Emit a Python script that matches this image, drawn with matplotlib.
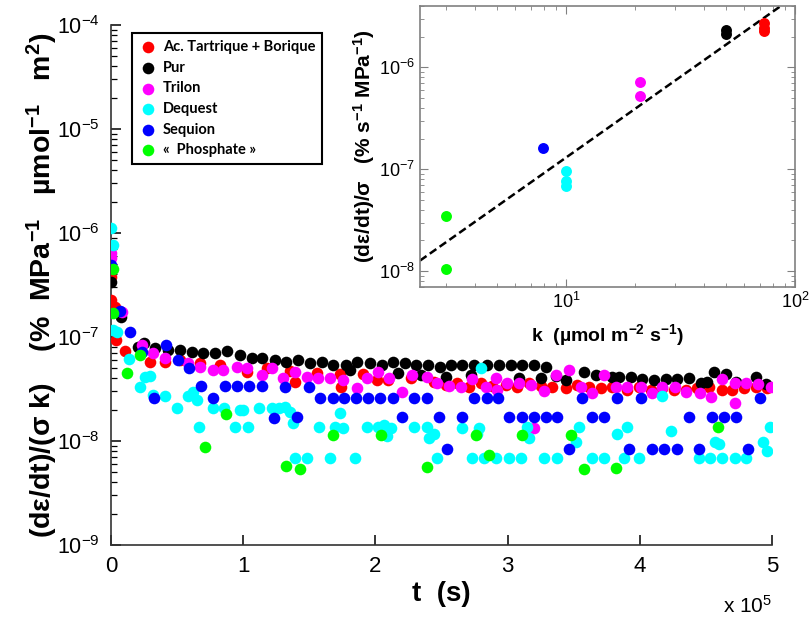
import matplotlib
matplotlib.use("Agg")
import matplotlib.pyplot as plt
from matplotlib.ticker import LogLocator, NullFormatter

plt.rcParams['font.family'] = ['Liberation Sans', 'DejaVu Sans']

# ---------------- data (t in units of 1e5 s) ----------------
names = ["Ac. Tartrique + Borique", "Pur", "Trilon", "Dequest", "Sequion", "«  Phosphate »"]
colors = ["#ff0000", "#000000", "#ff00ff", "#00ffff", "#0000ff", "#00ff00"]

tartrique_t = [0.0, 0.0, 0.03, 0.038, 0.106, 0.295, 0.41, 0.521, 0.672, 0.823, 1.027, 1.178, 1.352, 1.39, 1.556,
               1.73, 1.737, 1.903, 2.009, 2.092, 2.273, 2.447, 2.538, 2.621, 2.711, 2.802, 2.885, 2.991, 3.074,
               3.165, 3.255, 3.338, 3.444, 3.527, 3.618, 3.708, 3.792, 3.905, 3.995, 4.086, 4.169, 4.26, 4.35,
               4.434, 4.524, 4.622, 4.698, 4.789, 4.879, 4.962]
tartrique_y = [3.76e-7, 2.26e-7, 1.93e-7, 9.3e-8, 7.3e-8, 5.7e-8, 5.8e-8, 5.97e-8, 5.58e-8, 5.34e-8, 4.57e-8, 5.0e-8,
               4.67e-8, 3.66e-8, 4.48e-8, 4.38e-8, 3.28e-8, 4.38e-8, 3.83e-8, 3.83e-8, 4.0e-8, 3.66e-8, 3.43e-8,
               3.58e-8, 3.28e-8, 3.58e-8, 3.35e-8, 3.43e-8, 3.28e-8, 3.58e-8, 3.35e-8, 3.28e-8, 3.2e-8, 3.43e-8,
               3.28e-8, 3.2e-8, 3.28e-8, 3.12e-8, 3.28e-8, 3.07e-8, 3.2e-8, 3.12e-8, 3.07e-8, 3.2e-8, 3.28e-8,
               3.12e-8, 3.07e-8, 3.2e-8, 3.28e-8, 3.2e-8]

pur_t = [0.0, 0.076, 0.204, 0.25, 0.332, 0.43, 0.521, 0.612, 0.695, 0.785, 0.876, 0.974, 1.065, 1.14, 1.239,
         1.322, 1.412, 1.503, 1.594, 1.677, 1.775, 1.858, 1.956, 2.047, 2.13, 2.221, 2.311, 2.402, 2.492,
         1.805, 2.168, 2.349, 2.538, 2.576, 2.659, 2.749, 2.847, 2.938, 3.029, 3.112, 3.202, 3.293,
         2.727, 3.089, 3.255, 3.369, 3.444, 3.58, 3.671, 3.792, 3.844, 3.935, 4.018, 4.109, 4.199, 4.282,
         4.373, 4.464, 4.509, 4.562, 4.653, 4.728, 4.879, 4.955]
pur_y = [3.37e-7, 1.55e-7, 8.0e-8, 8.7e-8, 7.8e-8, 7.45e-8, 7.45e-8, 7.1e-8, 6.97e-8, 6.97e-8, 7.3e-8, 6.67e-8,
         6.24e-8, 6.24e-8, 6.0e-8, 5.7e-8, 5.97e-8, 5.58e-8, 5.7e-8, 5.34e-8, 5.34e-8, 5.7e-8, 5.58e-8, 5.34e-8,
         5.7e-8, 5.58e-8, 5.34e-8, 5.34e-8, 5.1e-8, 4.78e-8, 4.48e-8, 4.28e-8, 4.1e-8, 5.34e-8, 5.34e-8,
         5.34e-8, 5.34e-8, 5.34e-8, 5.34e-8, 5.34e-8, 5.34e-8, 5.1e-8, 4.28e-8, 4.0e-8, 4.0e-8, 4.19e-8,
         3.83e-8, 4.57e-8, 4.28e-8, 4.1e-8, 4.1e-8, 4.1e-8, 3.92e-8, 3.83e-8, 3.92e-8, 3.92e-8, 4.0e-8,
         3.58e-8, 3.66e-8, 4.57e-8, 4.38e-8, 3.66e-8, 4.1e-8, 3.5e-8]

trilon_t = [0.0, 0.0, 0.083, 0.234, 0.317, 0.408, 0.582, 0.672, 0.77, 0.846, 0.952, 1.027, 1.14, 1.216, 1.299,
            1.39, 1.48, 1.563, 1.654, 1.752, 1.858, 1.934, 2.017, 2.107, 2.205, 2.281, 2.387, 2.47, 2.56, 2.651,
            2.734, 2.84, 2.915, 2.923, 2.998, 3.089, 3.18, 3.278, 3.369, 3.467, 3.557, 3.64, 3.731, 3.822,
            3.905, 4.011, 4.094, 4.169, 4.267, 4.35, 4.456, 4.539, 4.622, 4.721, 4.721, 4.804, 4.894, 4.992,
            3.202]
trilon_y = [6.4e-7, 5.7e-7, 1.73e-7, 8.3e-8, 6.97e-8, 6.24e-8, 5.58e-8, 5.1e-8, 4.78e-8, 4.78e-8, 5.1e-8, 5.0e-8,
            4.28e-8, 5.0e-8, 4.0e-8, 4.57e-8, 4.1e-8, 4.0e-8, 4.0e-8, 3.83e-8, 3.2e-8, 4.0e-8, 4.57e-8, 4.0e-8,
            2.94e-8, 4.28e-8, 4.1e-8, 3.58e-8, 3.35e-8, 3.28e-8, 3.92e-8, 3.28e-8, 4.0e-8, 3.07e-8, 3.58e-8,
            3.58e-8, 3.43e-8, 3.0e-8, 4.28e-8, 4.78e-8, 3.28e-8, 2.87e-8, 4.28e-8, 3.28e-8, 3.28e-8, 3.28e-8,
            2.87e-8, 3.28e-8, 3.28e-8, 2.94e-8, 2.87e-8, 2.63e-8, 3.92e-8, 3.58e-8, 2.3e-8, 3.58e-8, 3.5e-8,
            3.28e-8, 1.32e-8]

dequest_t = [0.0, 0.015, 0.0, 0.015, 0.045, 0.136, 0.219, 0.257, 0.295, 0.317, 0.408, 0.498, 0.582, 0.619, 0.65,
             0.665, 0.77, 0.853, 0.974, 0.997, 0.937, 1.035, 1.118, 1.216, 1.269, 1.314, 1.352, 1.375, 1.571,
             1.73, 1.692, 1.752, 1.934, 2.017, 2.069, 2.115, 2.085, 2.289, 2.387, 2.409, 2.447,
             1.39, 1.48, 1.654, 1.843, 2.47, 2.734, 2.825, 2.915, 3.014, 3.104, 3.278, 3.376, 3.64, 3.731,
             3.882, 3.995, 4.449, 4.532, 4.622, 4.721, 4.804,
             2.802, 2.659, 2.787, 2.772, 3.15, 3.165, 3.542, 3.52, 3.829, 3.905, 4.169, 4.237, 4.57, 4.6,
             4.932, 4.962, 4.985]
dequest_y = [1.11e-6, 7.6e-7, 4.7e-7, 1.16e-7, 1.11e-7, 6.1e-8, 3.28e-8, 4.1e-8, 4.19e-8, 2.75e-8, 2.69e-8,
             2.06e-8, 2.69e-8, 2.94e-8, 2.46e-8, 1.35e-8, 2.06e-8, 2.06e-8, 1.97e-8, 2.0e-8, 1.35e-8, 1.35e-8,
             2.06e-8, 2.06e-8, 2.06e-8, 2.1e-8, 1.88e-8, 1.48e-8, 1.35e-8, 1.84e-8, 1.35e-8, 1.32e-8, 1.35e-8,
             1.35e-8, 1.41e-8, 1.32e-8, 1.11e-8, 1.35e-8, 1.35e-8, 1.08e-8, 1.16e-8,
             6.8e-9, 6.8e-9, 6.8e-9, 6.8e-9, 6.8e-9, 6.8e-9, 6.8e-9, 6.8e-9, 6.8e-9, 6.8e-9, 6.8e-9, 6.8e-9,
             6.8e-9, 6.8e-9, 6.8e-9, 6.8e-9, 6.8e-9, 6.8e-9, 6.8e-9, 6.8e-9, 6.8e-9,
             5.0e-8, 1.32e-8, 1.32e-8, 1.18e-8, 1.35e-8, 1.08e-8, 1.35e-8, 9.7e-9, 1.18e-8, 1.35e-8, 2.69e-8,
             1.26e-8, 9.7e-9, 9.3e-9, 9.7e-9, 8.1e-9, 1.35e-8]

sequion_t = [0.0, 0.068, 0.144, 0.234, 0.415, 0.506, 0.589, 0.68, 0.325, 0.77, 0.861, 0.952, 1.042, 1.14, 1.231,
             1.314, 1.405, 1.495, 1.579, 1.677, 1.76, 1.85, 1.941, 2.032, 2.13, 2.296, 2.387, 2.205, 2.485,
             2.545, 2.749, 2.847, 2.93, 3.565, 2.659, 3.014, 3.112, 3.202, 3.293, 3.376, 3.64, 3.731, 4.373,
             4.547, 4.637, 4.728, 3.467, 3.829, 4.011, 4.909, 3.92, 4.094, 4.184, 4.282, 4.449, 4.819]
sequion_y = [4.9e-7, 1.77e-7, 1.11e-7, 7.1e-8, 8.3e-8, 5.97e-8, 5.0e-8, 3.35e-8, 2.57e-8, 2.57e-8, 3.35e-8,
             3.35e-8, 3.35e-8, 3.35e-8, 1.65e-8, 3.28e-8, 1.69e-8, 3.28e-8, 2.57e-8, 2.57e-8, 2.57e-8, 2.57e-8,
             2.57e-8, 2.57e-8, 2.57e-8, 2.57e-8, 2.57e-8, 1.69e-8, 1.69e-8, 8.3e-9, 2.57e-8, 2.57e-8, 2.57e-8,
             2.57e-8, 1.69e-8, 1.69e-8, 1.69e-8, 1.69e-8, 1.69e-8, 1.69e-8, 1.69e-8, 1.69e-8, 1.69e-8,
             1.69e-8, 1.69e-8, 1.69e-8, 8.3e-9, 2.57e-8, 2.57e-8, 2.57e-8, 8.3e-9, 8.3e-9, 8.3e-9, 8.3e-9,
             8.3e-9, 8.3e-9]

phosphate_t = [0.015, 0.015, 0.121, 0.219, 0.71, 0.869, 1.322, 1.427, 1.677, 2.039, 2.387, 2.764, 2.863, 3.112,
               3.482, 3.58, 3.822, 4.592]
phosphate_y = [4.5e-7, 1.69e-7, 4.48e-8, 6.67e-8, 8.7e-9, 1.8e-8, 5.7e-9, 5.33e-9, 1.13e-8, 1.13e-8, 5.57e-9,
               1.13e-8, 7.4e-9, 1.13e-8, 1.13e-8, 5.33e-9, 5.45e-9, 1.35e-8]

series_t = [tartrique_t, pur_t, trilon_t, dequest_t, sequion_t, phosphate_t]
series_y = [tartrique_y, pur_y, trilon_y, dequest_y, sequion_y, phosphate_y]

# inset: k (µmol m-2 s-1) vs (dε/dt)/σ
inset_k = [[73, 73, 73], [50, 50], [21, 21], [10, 10, 10], [7.9], [3.0, 3.0]]
inset_y = [[2.7e-6, 2.45e-6, 2.25e-6], [2.3e-6, 2.1e-6], [7.2e-7, 5.2e-7],
           [9.6e-8, 7.6e-8, 6.9e-8], [1.6e-7], [3.5e-8, 1.06e-8]]
fit_k = [2.3, 100.0]
fit_y = [1.27e-8, 5.0e-6]

# ---------------- figure ----------------
fig = plt.figure(figsize=(8.1, 6.22), dpi=100)
ax = fig.add_axes([0.137, 0.1238, 0.816, 0.836])

for t, y, c, n in zip(series_t, series_y, colors, names):
    ax.scatter(t, y, s=70, c=c, linewidths=0, label=n, zorder=3)

ax.set_yscale('log')
ax.set_ylim(1e-9, 1e-4)
ax.set_xlim(0, 5)
ax.set_xticks([0, 1, 2, 3, 4, 5])
ax.yaxis.set_major_locator(LogLocator(base=10, numticks=10))
ax.yaxis.set_minor_locator(LogLocator(base=10, subs=range(2, 10), numticks=100))
ax.yaxis.set_minor_formatter(NullFormatter())
for s in ['top', 'right']:
    ax.spines[s].set_visible(False)
for s in ['left', 'bottom']:
    ax.spines[s].set_linewidth(1.2)
    ax.spines[s].set_color('#333333')
ax.tick_params(axis='y', which='major', direction='in', length=7, width=1.1, labelsize=15.5, pad=8)
ax.tick_params(axis='y', which='minor', direction='in', length=4, width=0.9)
ax.tick_params(axis='x', which='major', direction='in', length=7, width=1.1, labelsize=16, pad=8)

ax.set_ylabel("(dε/dt)/(σ k)    (%  MPa$\\mathdefault{^{-1}}$   µmol$\\mathdefault{^{-1}}$   m$\\mathdefault{^{2}}$)",
              fontsize=20.5, fontweight='bold')
ax.yaxis.set_label_coords(-0.077, 0.5)
ax.set_xlabel("t  (s)", fontsize=20, fontweight='bold')
ax.xaxis.set_label_coords(0.5, -0.07)
fig.text(0.953, 0.0145, "x 10$\\mathdefault{^{5}}$", fontsize=15, ha='right', va='baseline')

leg = ax.legend(loc='upper left', bbox_to_anchor=(0.163, 0.947), bbox_transform=fig.transFigure,
                frameon=True, fancybox=False, shadow=False, borderaxespad=0, handletextpad=0.4,
                labelspacing=0.45, borderpad=0.5, handlelength=1.2, markerscale=1.0,
                prop={'family': ['Lato', 'DejaVu Sans'], 'weight': 'bold', 'size': 10.5})
leg.get_frame().set_edgecolor('black')
leg.get_frame().set_linewidth(1.5)
leg.get_frame().set_alpha(1)

# ---------------- inset ----------------
ax2 = fig.add_axes([0.5185, 0.5386, 0.463, 0.452])
for k, y, c in zip(inset_k, inset_y, colors):
    ax2.scatter(k, y, s=62, c=c, linewidths=0, zorder=3)
ax2.plot(fit_k, fit_y, color='black', lw=1.8, dashes=(3.2, 1.6), zorder=2)
ax2.set_xscale('log')
ax2.set_yscale('log')
ax2.set_xlim(2.3, 100)
ax2.set_ylim(7e-9, 4e-6)
ax2.xaxis.set_minor_formatter(NullFormatter())
ax2.yaxis.set_minor_formatter(NullFormatter())
for s in ax2.spines.values():
    s.set_color('#808080')
    s.set_linewidth(1.2)
ax2.tick_params(which='both', direction='in', top=True, right=True, colors='#808080', labelcolor='black')
ax2.tick_params(which='major', length=6, labelsize=13)
ax2.tick_params(which='minor', length=3)
ax2.set_ylabel("(dε/dt)/σ   (% s$\\mathdefault{^{-1}}$ MPa$\\mathdefault{^{-1}}$)", fontsize=15, fontweight='bold')
ax2.yaxis.set_label_coords(-0.115, 0.5)
ax2.set_xlabel("k  (µmol m$\\mathdefault{^{-2}}$ s$\\mathdefault{^{-1}}$)", fontsize=14, fontweight='bold')
ax2.xaxis.set_label_coords(0.5, -0.125)

fig.savefig("out.png", dpi=100)
